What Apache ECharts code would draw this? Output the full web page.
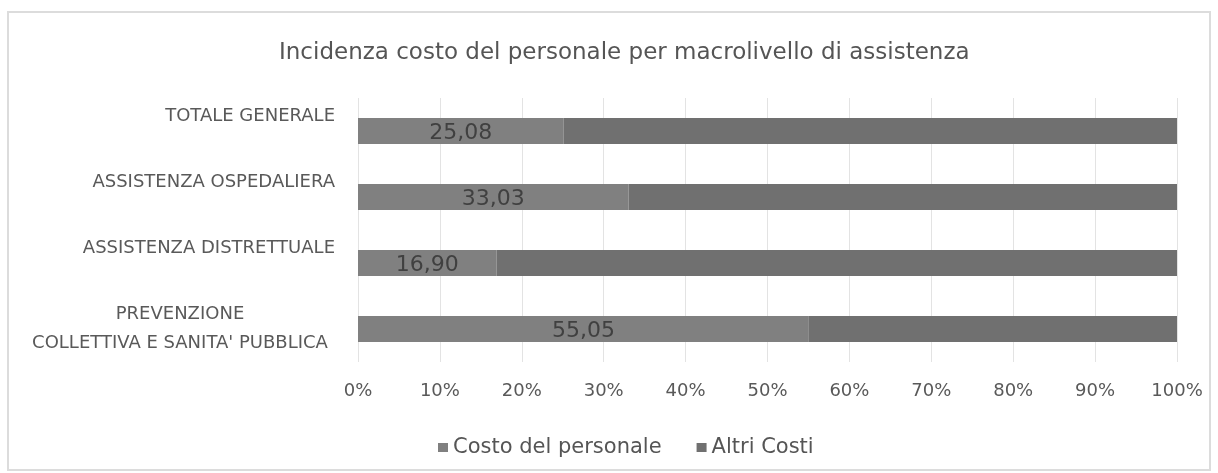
<!DOCTYPE html>
<html>
<head>
<meta charset="utf-8">
<script src="https://cdn.jsdelivr.net/npm/echarts@6/dist/echarts.min.js"></script>
<style>
html,body{margin:0;padding:0;background:#fff;}
#chart{width:1218px;height:473px;}
</style>
</head>
<body>
<div id="chart"></div>
<script>
const titleText = 'Incidenza costo del personale per macrolivello di assistenza';
const categories = ['TOTALE GENERALE', 'ASSISTENZA OSPEDALIERA', 'ASSISTENZA DISTRETTUALE', 'PREVENZIONE\nCOLLETTIVA E SANITA\' PUBBLICA'];
const seriesNames = ['Costo del personale', 'Altri Costi'];
const costoPersonale = [25.08, 33.03, 16.90, 55.05];
const altriCosti = [74.92, 66.97, 83.10, 44.95];
const xTicks = [0, 10, 20, 30, 40, 50, 60, 70, 80, 90, 100];

const FONT = 'DejaVu Sans, sans-serif';
const chart = echarts.init(document.getElementById('chart'), null, {renderer: 'canvas'});

const option = {
  backgroundColor: '#ffffff',
  animation: false,
  graphic: [{
    type: 'rect',
    shape: {x: 8, y: 12, width: 1202, height: 458},
    style: {fill: 'none', stroke: '#dcdcdc', lineWidth: 2},
    silent: true
  }],
  title: {
    text: titleText,
    left: 274,
    top: 37,
    textStyle: {fontFamily: FONT, fontSize: 23, fontWeight: 'normal', color: '#555555'}
  },
  legend: {
    data: seriesNames,
    left: 433,
    top: 432,
    icon: 'rect',
    itemWidth: 10,
    itemHeight: 9,
    itemGap: 35,
    textStyle: {fontFamily: FONT, fontSize: 21, color: '#555555'}
  },
  grid: {left: 358, right: 41, top: 98, bottom: 111, containLabel: false},
  xAxis: {
    type: 'value',
    min: xTicks[0],
    max: xTicks[xTicks.length - 1],
    interval: xTicks[1] - xTicks[0],
    axisLine: {show: false},
    axisTick: {show: false},
    splitLine: {show: true, lineStyle: {color: '#e3e3e3', width: 1}},
    axisLabel: {
      margin: 20,
      fontFamily: FONT,
      fontSize: 18,
      color: '#595959',
      formatter: function (v) { return v + '%'; }
    }
  },
  yAxis: {
    type: 'category',
    inverse: true,
    data: categories,
    axisLine: {show: false},
    axisTick: {show: false},
    axisLabel: {
      margin: 23,
      fontFamily: FONT,
      fontSize: 18,
      color: '#595959',
      formatter: function (v) {
        if (v.indexOf('\n') >= 0) {
          return v.split('\n').map(function (s) { return '{c|' + s + '}'; }).join('\n');
        }
        return '{r|' + v + '}\n{r| }';
      },
      rich: {
        r: {fontFamily: FONT, fontSize: 18, color: '#595959', lineHeight: 30, width: 310, align: 'right'},
        c: {fontFamily: FONT, fontSize: 18, color: '#595959', lineHeight: 29, width: 310, align: 'center'}
      }
    }
  },
  series: [
    {
      name: seriesNames[0],
      type: 'bar',
      stack: 'tot',
      barWidth: 26,
      data: costoPersonale,
      itemStyle: {color: '#808080'},
      label: {
        show: true,
        position: 'inside',
        offset: [0, 2],
        fontFamily: FONT,
        fontSize: 22,
        color: '#404040',
        formatter: function (p) { return p.value.toFixed(2).replace('.', ','); }
      }
    },
    {
      name: seriesNames[1],
      type: 'bar',
      stack: 'tot',
      barWidth: 26,
      data: altriCosti,
      itemStyle: {color: '#707070'}
    }
  ]
};
chart.setOption(option);
</script>
</body>
</html>
